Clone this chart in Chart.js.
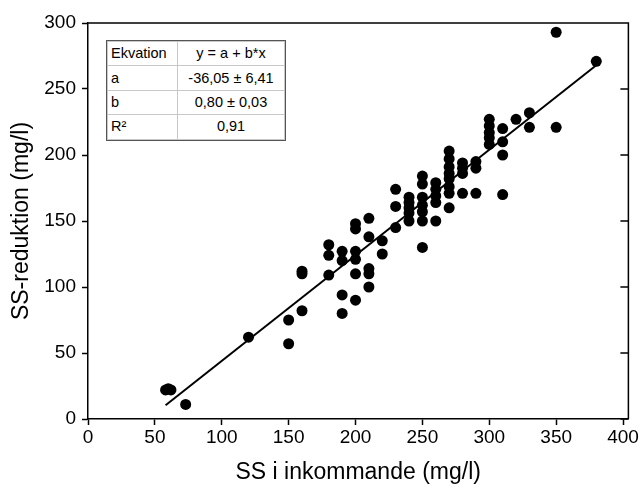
<!DOCTYPE html>
<html>
<head>
<meta charset="utf-8">
<script src="https://cdn.jsdelivr.net/npm/chart.js@4/dist/chart.umd.min.js"></script>
<style>
  html, body { margin: 0; padding: 0; background: #fff; }
  #wrap { position: relative; width: 640px; height: 493px; }
  #fit {
    position: absolute; left: 107px; top: 41px;
    border-collapse: collapse; background: #fff; color: #000;
    font: 14.5px "Liberation Sans", Arial, sans-serif;
    outline: 1.5px solid #555;
  }
  #fit td { border: 1px solid #c8c8c8; height: 23.4px; padding: 0 3px; line-height: 23px; }
  #fit td:first-child { width: 63px; text-align: left; }
  #fit td:last-child { width: 100px; text-align: center; }
</style>
</head>
<body>
<div id="wrap">
  <canvas id="chart" width="640" height="493"></canvas>
  <table id="fit"></table>
</div>
<script>
// SS in incoming water (x) and SS reduction (y), mg/l
const ssIn = [
  58, 60, 62, 73, 120,
  150, 150, 160, 160, 160,
  180, 180, 180, 190, 190, 190, 190,
  200, 200, 200, 200, 200, 200,
  210, 210, 210, 210, 210, 220, 220,
  230, 230, 230, 240, 240, 240, 240, 240,
  250, 250, 250, 250, 250, 250, 250,
  260, 260, 260, 260, 260,
  270, 270, 270, 270, 270, 270, 270, 270,
  280, 280, 280, 280, 290, 290, 290,
  300, 300, 300, 300, 300, 310, 310, 310, 310,
  320, 330, 330, 350, 350, 380
];
const ssRed = [
  22, 23, 22, 11, 62,
  75, 57, 112, 110, 82,
  132, 124, 109, 127, 120, 94, 80,
  148, 144, 127, 121, 110, 90,
  152, 138, 114, 110, 100, 135, 125,
  174, 161, 145, 168, 164, 160, 156, 150,
  184, 178, 168, 162, 157, 150, 130,
  179, 174, 169, 164, 150,
  203, 197, 191, 186, 182, 176, 171, 160,
  194, 190, 186, 171, 195, 190, 171,
  227, 222, 217, 213, 208, 220, 210, 200, 170,
  227, 232, 221, 293, 221, 271
];

// fit y = a + b*x
const fitA = -36.05;
const fitB = 0.80;

const xTickValues = [0, 50, 100, 150, 200, 250, 300, 350, 400];
const yTickValues = [0, 50, 100, 150, 200, 250, 300];

const tableLabels = ['Ekvation', 'a', 'b', 'R²'];
const tableValues = ['y = a + b*x', '-36,05 ± 6,41', '0,80 ± 0,03', '0,91'];

document.getElementById('fit').innerHTML = tableLabels
  .map((l, i) => '<tr><td>' + l + '</td><td>' + tableValues[i] + '</td></tr>').join('');

const points = ssIn.map((x, i) => ({ x: x, y: ssRed[i] }));
const xMin = Math.min(...ssIn), xMax = Math.max(...ssIn);
const fitLine = [xMin, xMax].map(x => ({ x: x, y: fitA + fitB * x }));

// top/right frame with inward ticks on the right
const framePlugin = {
  id: 'frame',
  afterDatasetsDraw(chart) {
    const { ctx, chartArea: a, scales: { y } } = chart;
    ctx.save();
    ctx.strokeStyle = '#000';
    ctx.lineWidth = 1.5;
    ctx.beginPath();
    ctx.moveTo(a.left, a.top);
    ctx.lineTo(a.right, a.top);
    ctx.lineTo(a.right, a.bottom);
    y.ticks.forEach(t => {
      const py = y.getPixelForValue(t.value);
      ctx.moveTo(a.right, py);
      ctx.lineTo(a.right - 8, py);
    });
    ctx.stroke();
    ctx.restore();
  }
};

Chart.defaults.font.family = '"Liberation Sans", Arial, sans-serif';
Chart.defaults.color = '#000';

const axisCommon = {
  type: 'linear',
  grid: { drawOnChartArea: false, tickLength: 6, tickColor: '#000', tickWidth: 1.5 },
  border: { color: '#000', width: 1.5 },
};

new Chart(document.getElementById('chart'), {
  type: 'scatter',
  data: {
    datasets: [
      {
        label: 'Data', data: points, order: 1,
        pointRadius: 5.5, pointHoverRadius: 5.5,
        backgroundColor: '#000', borderColor: '#000', borderWidth: 0
      },
      {
        type: 'line', label: 'Fit', data: fitLine, order: 2,
        borderColor: '#000', borderWidth: 2, pointRadius: 0, fill: false
      }
    ]
  },
  options: {
    responsive: false,
    animation: false,
    events: [],
    layout: { padding: { top: 23, right: 11, left: 0, bottom: 0 } },
    plugins: { legend: { display: false }, tooltip: { enabled: false } },
    scales: {
      x: {
        ...axisCommon,
        min: 0, max: 404,
        afterBuildTicks: s => { s.ticks = xTickValues.map(v => ({ value: v })); },
        afterFit: s => { s.height = 74; },
        ticks: { font: { size: 19 }, padding: 1, maxRotation: 0 },
        title: { display: true, text: 'SS i inkommande (mg/l)', font: { size: 23 }, padding: { top: 0, bottom: 7 } }
      },
      y: {
        ...axisCommon,
        min: 0, max: 300,
        afterBuildTicks: s => { s.ticks = yTickValues.map(v => ({ value: v })); },
        afterFit: s => { s.width = 88; },
        ticks: { font: { size: 19 }, padding: 6 },
        title: { display: true, text: 'SS-reduktion (mg/l)', font: { size: 23 }, padding: { top: 8, bottom: 0 } }
      }
    }
  },
  plugins: [framePlugin]
});
</script>
</body>
</html>
